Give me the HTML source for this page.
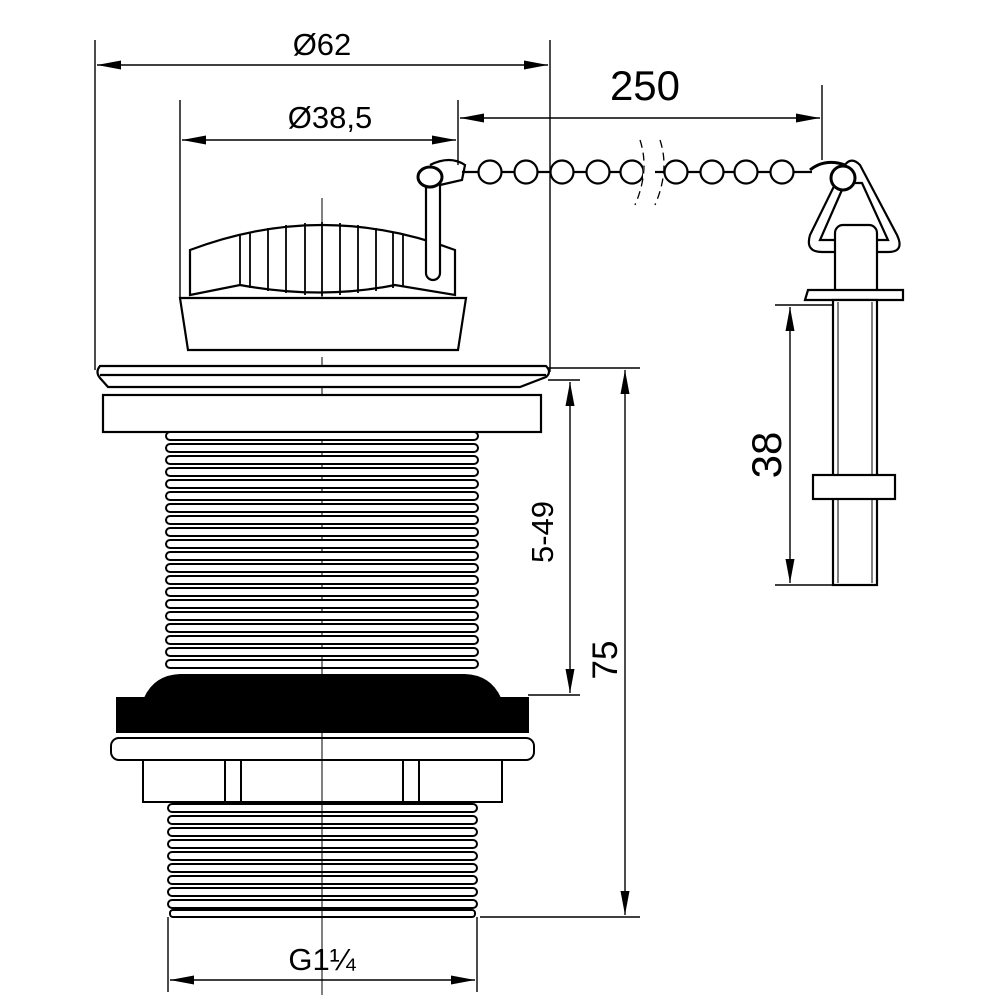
<!DOCTYPE html>
<html><head><style>body{margin:0;background:#fff}svg{display:block}text{font-family:"Liberation Sans",sans-serif;fill:#000}</style></head>
<body>
<svg width="1000" height="1000" viewBox="0 0 1000 1000" xmlns="http://www.w3.org/2000/svg">
<defs>
<marker id="a" viewBox="0 0 10 10" refX="10" refY="5" markerWidth="24" markerHeight="9" orient="auto-start-reverse" markerUnits="userSpaceOnUse" preserveAspectRatio="none"><path d="M0,0L10,5L0,10z" fill="#000"/></marker>
</defs>
<g stroke="#000" fill="none" stroke-width="1.4">
<line x1="95" y1="40" x2="95" y2="370"/><line x1="550" y1="40" x2="550" y2="372"/>
<line x1="97" y1="65" x2="548" y2="65" marker-start="url(#a)" marker-end="url(#a)"/>
<line x1="180" y1="100" x2="180" y2="300"/><line x1="458" y1="100" x2="458" y2="165"/>
<line x1="182" y1="140" x2="456" y2="140" marker-start="url(#a)" marker-end="url(#a)"/>
<line x1="822" y1="85" x2="822" y2="160"/>
<line x1="460" y1="118" x2="820" y2="118" marker-start="url(#a)" marker-end="url(#a)"/>
<line x1="322" y1="198" x2="322" y2="340" stroke-width="1"/>
<line x1="322" y1="357" x2="322" y2="995" stroke-width="1"/>
</g>
<g stroke="#000" fill="#fff" stroke-width="2.2">
<path d="M190,250 Q322,200 455,250 L455,295 L395,285 Q322,300 240,285 L190,295 Z"/>
<g stroke-width="1.8" fill="none">
<line x1="240" y1="235" x2="240" y2="286"/><line x1="250" y1="232" x2="250" y2="288"/>
<line x1="268" y1="228" x2="268" y2="291"/><line x1="286" y1="225" x2="286" y2="293"/>
<line x1="305" y1="223" x2="305" y2="295"/><line x1="322" y1="222" x2="322" y2="296"/>
<line x1="340" y1="223" x2="340" y2="295"/><line x1="358" y1="225" x2="358" y2="293"/>
<line x1="376" y1="228" x2="376" y2="291"/><line x1="393" y1="232" x2="393" y2="288"/><line x1="403" y1="235" x2="403" y2="286"/>
</g>
<path d="M180,298 L466,298 L458,350 L188,350 Z"/>
<rect x="426" y="172" width="14" height="108" rx="7"/>
<ellipse cx="430" cy="177" rx="12" ry="10" stroke-width="3"/>
<path d="M430,165 Q450,155 465,165 L462,180 L440,185" fill="none"/>
<line x1="462" y1="172" x2="635" y2="172" stroke-width="2.2"/>
<line x1="655" y1="172" x2="812" y2="172" stroke-width="2.2"/>
<circle cx="490" cy="172" r="11.5"/><circle cx="526" cy="172" r="11.5"/><circle cx="562" cy="172" r="11.5"/><circle cx="598" cy="172" r="11.5"/><circle cx="632" cy="172" r="11.5"/>
<circle cx="676" cy="172" r="11.5"/><circle cx="712" cy="172" r="11.5"/><circle cx="746" cy="172" r="11.5"/><circle cx="782" cy="172" r="11.5"/>
<rect x="643" y="150" width="10" height="50" stroke="none" fill="#fff"/>
<path d="M640,140 Q650,170 635,205" fill="none" stroke-width="1.3" stroke-dasharray="8,5"/>
<path d="M660,140 Q670,170 655,205" fill="none" stroke-width="1.3" stroke-dasharray="8,5"/>
<path d="M843,168 L810,235 Q805,252 822,252 L888,252 Q905,252 897,235 L860,165 Q850,155 843,168 Z"/>
<path d="M845,183 L820,240 L888,240 L862,183 Z"/>
<ellipse cx="843" cy="178" rx="12" ry="12" stroke-width="3"/>
<path d="M810,170 Q825,158 845,165" fill="none" stroke-width="3"/>
<rect x="835" y="225" width="42" height="72" rx="8"/>
<path d="M808,290 L903,290 L903,300 L805,300 Z"/>
<rect x="833" y="300" width="44" height="285"/>
<line x1="838" y1="302" x2="838" y2="583" stroke-width="1"/><line x1="872" y1="302" x2="872" y2="583" stroke-width="1"/>
<rect x="813" y="475" width="82" height="24"/>
<path d="M100,366 L546,366 Q552,372 546,377 L520,387 L108,387 L100,378 Q95,372 100,366 Z"/>
<line x1="100" y1="375" x2="546" y2="375"/>
<rect x="103" y="395" width="438" height="37"/>
</g>
<g stroke="#000" fill="#fff" stroke-width="2">
<rect x="166" y="432" width="312" height="8" rx="4"/><rect x="166" y="444" width="312" height="8" rx="4"/><rect x="166" y="456" width="312" height="8" rx="4"/><rect x="166" y="468" width="312" height="8" rx="4"/><rect x="166" y="480" width="312" height="8" rx="4"/><rect x="166" y="492" width="312" height="8" rx="4"/><rect x="166" y="504" width="312" height="8" rx="4"/><rect x="166" y="516" width="312" height="8" rx="4"/><rect x="166" y="528" width="312" height="8" rx="4"/><rect x="166" y="540" width="312" height="8" rx="4"/><rect x="166" y="552" width="312" height="8" rx="4"/><rect x="166" y="564" width="312" height="8" rx="4"/><rect x="166" y="576" width="312" height="8" rx="4"/><rect x="166" y="588" width="312" height="8" rx="4"/><rect x="166" y="600" width="312" height="8" rx="4"/><rect x="166" y="612" width="312" height="8" rx="4"/><rect x="166" y="624" width="312" height="8" rx="4"/><rect x="166" y="636" width="312" height="8" rx="4"/><rect x="166" y="648" width="312" height="8" rx="4"/><rect x="166" y="660" width="312" height="8" rx="4"/>
<path d="M145,698 Q155,676 180,675 L465,675 Q490,676 500,698 L528,698 L528,732 L117,732 L117,698 Z" fill="#000"/>
<rect x="111" y="738" width="423" height="22" rx="8"/>
<rect x="143" y="760" width="359" height="42"/>
<rect x="225" y="760" width="16" height="42"/><rect x="403" y="760" width="16" height="42"/>
<rect x="168" y="804" width="309" height="8" rx="4"/><rect x="168" y="816" width="309" height="8" rx="4"/><rect x="168" y="828" width="309" height="8" rx="4"/><rect x="168" y="840" width="309" height="8" rx="4"/><rect x="168" y="852" width="309" height="8" rx="4"/><rect x="168" y="864" width="309" height="8" rx="4"/><rect x="168" y="876" width="309" height="8" rx="4"/><rect x="168" y="888" width="309" height="8" rx="4"/><rect x="168" y="900" width="309" height="8" rx="4"/><rect x="170" y="910" width="305" height="7" rx="3"/>
</g>
<g stroke="#000" fill="none" stroke-width="1.4">
<line x1="322" y1="660" x2="322" y2="995" stroke-width="1"/>
<line x1="548" y1="368" x2="640" y2="368"/><line x1="480" y1="917" x2="640" y2="917"/>
<line x1="625" y1="370" x2="625" y2="915" marker-start="url(#a)" marker-end="url(#a)"/>
<line x1="528" y1="695" x2="580" y2="695"/><line x1="548" y1="380" x2="580" y2="380"/>
<line x1="570" y1="382" x2="570" y2="693" marker-start="url(#a)" marker-end="url(#a)"/>
<line x1="168" y1="917" x2="168" y2="992"/><line x1="477" y1="917" x2="477" y2="992"/>
<line x1="170" y1="980" x2="475" y2="980" marker-start="url(#a)" marker-end="url(#a)"/>
<line x1="775" y1="305" x2="833" y2="305"/><line x1="775" y1="585" x2="833" y2="585"/>
<line x1="790" y1="307" x2="790" y2="583" marker-start="url(#a)" marker-end="url(#a)"/>
</g>
<text x="322" y="55" font-size="31" text-anchor="middle">Ø62</text>
<text x="330" y="128" font-size="31" text-anchor="middle">Ø38,5</text>
<text x="645" y="100" font-size="42" text-anchor="middle">250</text>
<text x="322" y="970" font-size="31" text-anchor="middle">G1¼</text>
<text transform="translate(617,660) rotate(-90)" font-size="35" text-anchor="middle">75</text>
<text transform="translate(553,532) rotate(-90)" font-size="31" text-anchor="middle">5-49</text>
<text transform="translate(781,455) rotate(-90)" font-size="42" text-anchor="middle">38</text>
</svg>
</body></html>
